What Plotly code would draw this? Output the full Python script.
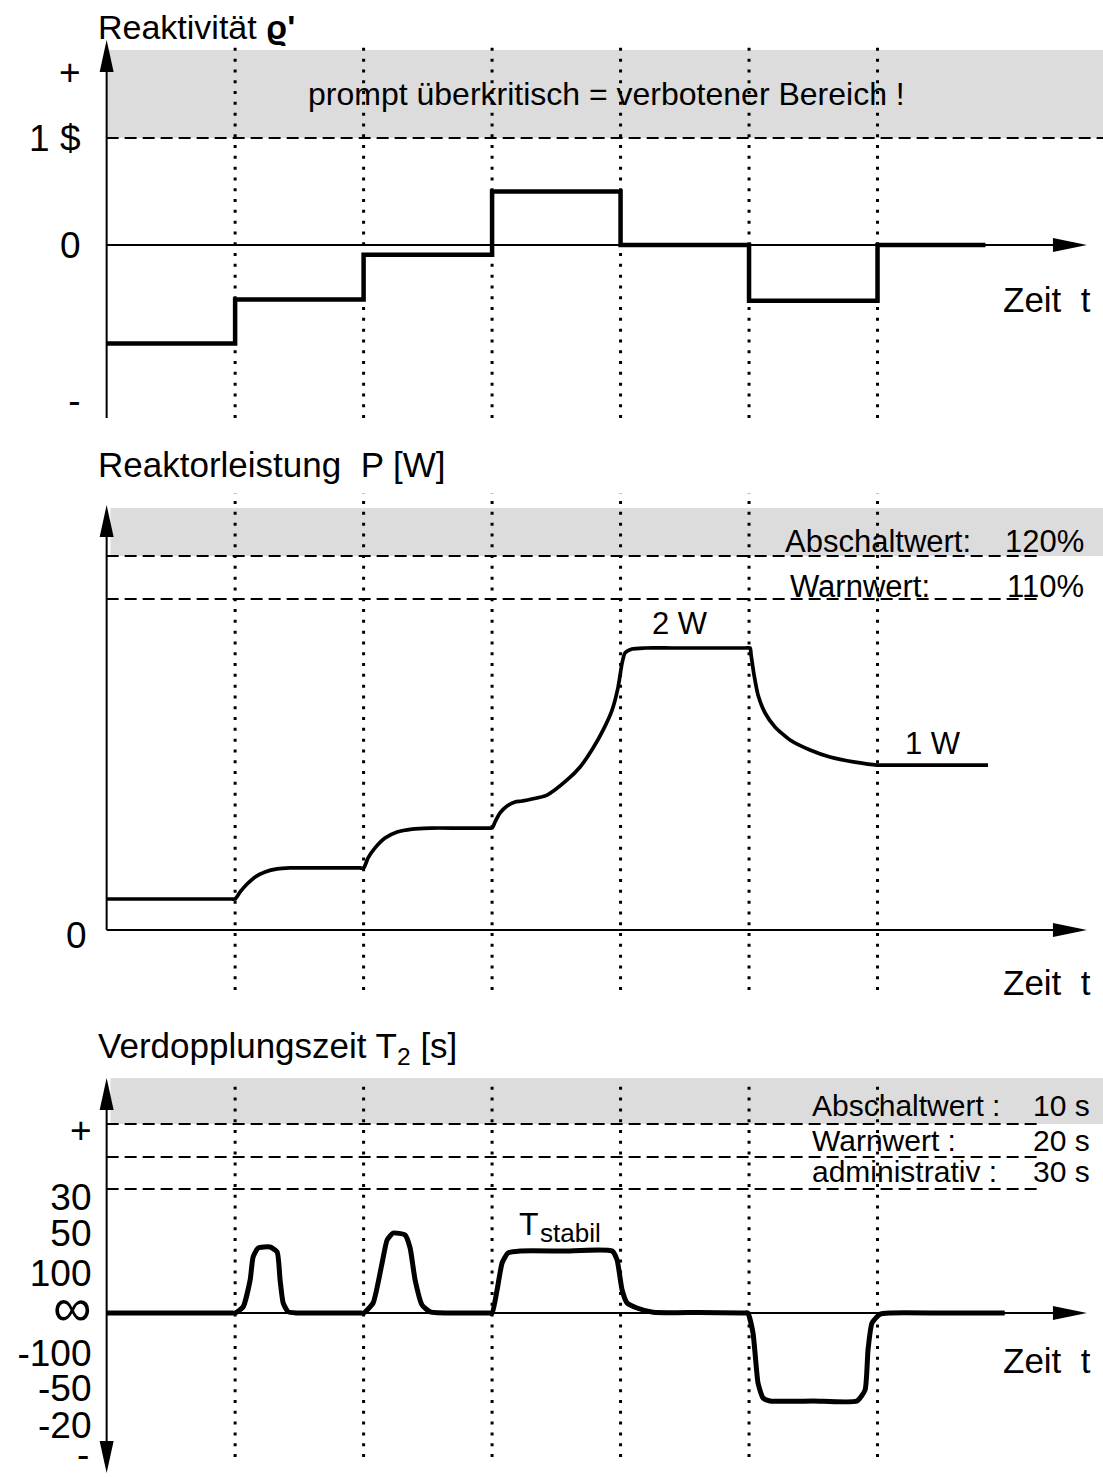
import plotly.graph_objects as go

W, H = 1103, 1477
FONT = "Liberation Sans, Arial, sans-serif"

# shared time axis: one unit between two dotted event lines
T_RANGE = [-0.83, 7.755]
EVENTS = [1, 2, 3, 4, 5, 6]
T_ARROW = 7.63        # tip of the time-axis arrows
T_DASH_END = 7.265    # end of the dashed limit lines (panels 2 and 3)

# --- panel 1: reactivity rho' [$] ---
rho_t = [0, 1, 2, 3, 4, 5, 6, 6.84]
rho = [-0.92, -0.51, -0.09, 0.50, 0.0, -0.52, 0.0, 0.0]
rho_tickvals = [1.617, 1.0, 0.0, -1.45]
rho_ticktext = ["+", "1 $", "0", "-"]
RHO_PROMPT = 1.0
RHO_BAND_TOP = 1.822

# --- panel 2: reactor power P (2 W plateau = 2) ---
p_t = [0, 0.5, 0.97, 1.0, 1.039, 1.093, 1.156, 1.233, 1.327, 1.428, 1.7, 1.97, 2.0,
       2.035, 2.089, 2.167, 2.261, 2.377, 2.518, 2.75, 2.97, 3.0, 3.023, 3.062, 3.117,
       3.179, 3.233, 3.428, 3.584, 3.685, 3.786, 3.864, 3.934, 3.981, 4.012, 4.035,
       4.089, 4.191, 4.4, 4.7, 4.97, 5.008, 5.016, 5.039, 5.070, 5.125, 5.202, 5.319,
       5.475, 5.630, 5.825, 5.996, 6.2, 6.5, 6.86]
p = [0.22, 0.22, 0.22, 0.22, 0.270, 0.326, 0.376, 0.411, 0.433, 0.440, 0.44, 0.44, 0.44,
     0.511, 0.582, 0.652, 0.695, 0.716, 0.723, 0.723, 0.723, 0.723, 0.766, 0.830, 0.879,
     0.908, 0.915, 0.957, 1.064, 1.156, 1.291, 1.418, 1.560, 1.723, 1.894, 1.965,
     1.993, 2.0, 2.0, 2.0, 2.0, 2.0, 1.950, 1.809, 1.667, 1.539, 1.440, 1.348,
     1.277, 1.227, 1.191, 1.17, 1.17, 1.17, 1.17]
p_tickvals = [-0.035]
p_ticktext = ["0"]
P_LIMITS = [2.652, 2.348]          # Abschaltwert 120 %, Warnwert 110 %
P_BAND_TOP = 2.993

# --- panel 3: inverse doubling time 1/T2 [1/s] ---
t2_t = [0, 0.5, 0.97, 1.0, 1.062, 1.117, 1.140, 1.179, 1.272, 1.327, 1.350, 1.374,
        1.412, 1.48, 1.75, 1.97, 2.0, 2.074, 2.144, 2.183, 2.230, 2.323, 2.362, 2.401,
        2.455, 2.518, 2.75, 2.97, 3.0, 3.039, 3.078, 3.124, 3.218, 3.55, 3.934, 3.973,
        4.012, 4.051, 4.128, 4.253, 4.6, 4.96, 4.99, 5.031, 5.070, 5.109, 5.163, 5.5,
        5.840, 5.903, 5.926, 5.957, 6.019, 6.1, 6.5, 6.99]
t2_inv = [0, 0, 0, 0, 0.0015, 0.00825, 0.014, 0.01625, 0.0165, 0.01525, 0.00825, 0.0025,
          0.0003, 0, 0, 0, 0, 0.0025, 0.0125, 0.01825, 0.02, 0.0195, 0.01625, 0.00825,
          0.002, 0.0003, 0, 0, 0, 0.00575, 0.0125, 0.015, 0.0155, 0.0155, 0.0155, 0.01325,
          0.00575, 0.0025, 0.00125, 0.0002, 0.0001, 0, 0, -0.005, -0.0175, -0.02125,
          -0.022, -0.022, -0.022, -0.01925, -0.00925, -0.0025, -0.0003, 0, 0, 0]
t2_tickvals = [0.04575, 0.029, 0.02, 0.01, 0.0, -0.01, -0.0188, -0.028]
t2_ticktext = ["+", "30", "50", "100", "<span style='font-size:54px'>∞</span>",
               "-100", "-50", "-20"]
T2_LIMITS = [0.04725, 0.039, 0.031]  # 10 s, 20 s, 30 s
T2_BAND_TOP = 0.05875

# panel geometry (pixel rows of the three stacked panels)
ROWS = [(0, 440), (440, 1000), (1000, 1477)]
RANGES = [(-1.822, 2.290), (-0.4965, 3.4752), (-0.041, 0.07825)]
AXIS_X = 106.5 / W
PPT = W / (T_RANGE[1] - T_RANGE[0])          # px per time unit
PPU = [(b - a) / (r[1] - r[0]) for (a, b), r in zip(ROWS, RANGES)]

fig = go.Figure()
curves = [(rho_t, rho, "y", 4.5, "hv", 0), (p_t, p, "y2", 3.7, "spline", 0.6),
          (t2_t, t2_inv, "y3", 5, "spline", 0.5)]
for xs, ys, yax, lw, shape, sm in curves:
    ln = dict(color="black", width=lw, shape=shape)
    if sm:
        ln["smoothing"] = sm
    fig.add_trace(go.Scatter(x=xs, y=ys, mode="lines", yaxis=yax, hoverinfo="skip", line=ln))

shapes = []


def line(yref, x0, y0, x1, y1, width=2, dash="solid"):
    shapes.append(dict(type="line", xref="x", yref=yref, x0=x0, y0=y0, x1=x1, y1=y1,
                       line=dict(color="black", width=width, dash=dash)))


def head(yref, ppu, tip_t, tip_v, direction):
    # filled arrow head, 32 px long and 14 px wide
    hw_t, hw_v = 7 / PPT, 7 / ppu
    if direction in ("up", "down"):
        base = tip_v - 32 / ppu if direction == "up" else tip_v + 32 / ppu
        pts = [(tip_t, tip_v), (tip_t - hw_t, base), (tip_t + hw_t, base)]
    else:
        base = tip_t - 34 / PPT
        pts = [(tip_t, tip_v), (base, tip_v - hw_v), (base, tip_v + hw_v)]
    path = "M {} {} L {} {} L {} {} Z".format(*[c for pt in pts for c in pt])
    shapes.append(dict(type="path", xref="x", yref=yref, path=path,
                       fillcolor="black", line=dict(width=0)))


def band(yref, y0, y1, t0):
    shapes.append(dict(type="rect", xref="x", yref=yref, x0=t0, x1=T_RANGE[1], y0=y0, y1=y1,
                       fillcolor="#dcdcdc", line=dict(width=0), layer="below"))


# grey forbidden zones
band("y", RHO_PROMPT, RHO_BAND_TOP, 0.0)
band("y2", P_LIMITS[0], P_BAND_TOP, 0.03)
band("y3", T2_LIMITS[0], T2_BAND_TOP, 0.03)

# dashed limit lines
line("y", 0, RHO_PROMPT, T_RANGE[1], RHO_PROMPT, dash="12px,6px")
for v in P_LIMITS:
    line("y2", 0, v, T_DASH_END, v, dash="12px,6px")
for v in T2_LIMITS:
    line("y3", 0, v, T_DASH_END, v, dash="12px,6px")

# dotted event lines
dotted = [("y", 1.850, -1.617), ("y2", 3.099, -0.426), ("y3", 0.05825, -0.036)]
for yref, top, bottom in dotted:
    for t in EVENTS:
        line(yref, t, bottom, t, top, width=3, dash="3px,7.8px")

# axes with arrows
line("y", 0, -1.617, 0, 1.916 - 0.1)
head("y", PPU[0], 0, 1.916, "up")
line("y2", 0, 0, 0, 3.014 - 0.1)
head("y2", PPU[1], 0, 3.014, "up")
line("y3", 0, -0.040 + 0.004, 0, 0.05875 - 0.004)
head("y3", PPU[2], 0, 0.05875, "up")
head("y3", PPU[2], 0, -0.040, "down")
for i, yref in enumerate(["y", "y2", "y3"]):
    line(yref, 0, 0, T_ARROW - 0.2, 0)
    head(yref, PPU[i], T_ARROW, 0, "right")

annotations = []


def text(s, x_px, y_px, size, anchor="left"):
    annotations.append(dict(text=s, x=x_px / W, y=1 - y_px / H, xref="paper", yref="paper",
                            xanchor=anchor, yanchor="middle", showarrow=False,
                            font=dict(family=FONT, size=size, color="black")))


text("Reaktivität <b>ϱ'</b>", 96, 27, 34)
text("Reaktorleistung  P [W]", 96, 465, 35)
text("Verdopplungszeit T<sub>2</sub> [s]", 96, 1048, 35)
for y in (300, 982, 1360):
    text("Zeit  t", 1093, y, 35, "right")
text("prompt überkritisch = verbotener Bereich !", 606, 94, 32, "center")
text("Abschaltwert:", 783, 542, 31)
text("120%", 1086, 542, 31, "right")
text("Warnwert:", 788, 586, 31)
text("110%", 1086, 586, 31, "right")
text("2 W", 680, 623, 31, "center")
text("1 W", 933, 743, 31, "center")
text("Abschaltwert :", 810, 1105, 30)
text("10 s", 1092, 1105, 30, "right")
text("Warnwert :", 810, 1140, 30)
text("20 s", 1092, 1140, 30, "right")
text("administrativ :", 810, 1171, 30)
text("30 s", 1092, 1171, 30, "right")
text("T", 529, 1224, 32, "center")
text("stabil", 570, 1233, 26, "center")
# the "-" at the foot of the T2 axis, cut by the lower edge of the picture
annotations.append(dict(text="-", x=91 / W, y=0, xref="paper", yref="paper",
                        xanchor="right", yanchor="bottom", showarrow=False,
                        font=dict(family=FONT, size=37, color="black")))


def yaxis(i, tickvals, ticktext, standoff):
    a, b = ROWS[i]
    return dict(domain=[1 - b / H, 1 - a / H], range=list(RANGES[i]), anchor="free",
                position=AXIS_X, showgrid=False, zeroline=False, showline=False,
                ticks="", tickvals=tickvals, ticktext=ticktext, ticklabelstandoff=standoff,
                tickfont=dict(family=FONT, size=37, color="black"), fixedrange=True)


fig.update_layout(
    width=W, height=H, margin=dict(l=0, r=0, t=0, b=0),
    paper_bgcolor="white", plot_bgcolor="white", showlegend=False,
    xaxis=dict(range=T_RANGE, domain=[0, 1], visible=False, anchor="y", fixedrange=True),
    yaxis=yaxis(0, rho_tickvals, rho_ticktext, 26),
    yaxis2=yaxis(1, p_tickvals, p_ticktext, 20),
    yaxis3=yaxis(2, t2_tickvals, t2_ticktext, 15),
    shapes=shapes, annotations=annotations,
)

# drop the default 8px body margin so the figure fills the window exactly
fig.write_html(
    "out.html", config={"displayModeBar": False},
    post_script="document.body.style.margin = '0';",
)
